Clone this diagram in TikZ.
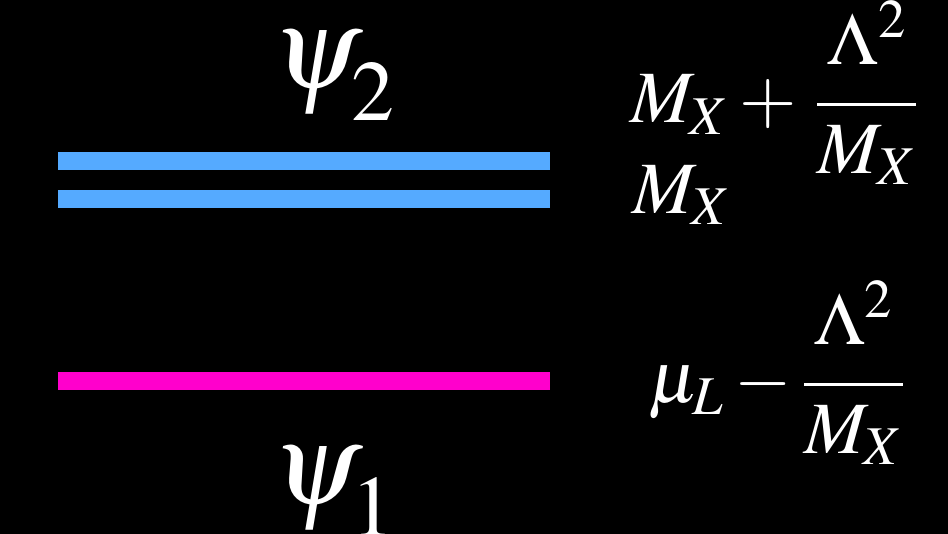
\documentclass[tikz,border=0pt]{standalone}
\usepackage{amsmath}
\usepackage{mathptmx}
\usetikzlibrary{calc}
\definecolor{HeavyClr}{RGB}{85,170,255}
\definecolor{LightClr}{RGB}{255,0,204}
\newcommand{\numlift}{\rule[-0.4em]{0pt}{0pt}}
\newcommand{\lowsub}[1]{\raisebox{-0.12em}{$\scriptstyle #1$}}

\begin{document}
\begin{tikzpicture}[x=0.02cm,y=-0.02cm]
\tikzset{level/.style={line width=0.36cm},
  lbl/.style={text=white,inner sep=0pt,font=\fontsize{42}{46}\selectfont},
  state/.style={lbl,anchor=base,font=\fontsize{66}{70}\selectfont}}

\fill[black] (0,0) rectangle (948,534);
\useasboundingbox (0,0) rectangle (948,534);

\coordinate (H1a) at (58,161);
\coordinate (H1b) at (550,161);
\coordinate (H2a) at (58,199);
\coordinate (H2b) at (550,199);
\coordinate (La) at (58,381);
\coordinate (Lb) at (550,381);

\draw[level,HeavyClr] (H1a) -- (H1b);
\draw[level,HeavyClr] (H2a) -- (H2b);
\draw[level,LightClr] (La) -- (Lb);

\node[state] (psiB) at (334,89) {$\psi_{\lowsub{2}}$};
\node[state] (psiA) at (334,504) {$\psi_{\lowsub{1}}$};

\node[lbl,anchor=west] (mHigh) at (630,93) {$M_X+\,\dfrac{\Lambda^2\numlift}{M_X}$};
\node[lbl,anchor=base west] (mLow) at (632,213) {$M_X$};
\node[lbl,anchor=west] (mLight) at (648,373) {$\mu_L-\dfrac{\Lambda^2\numlift}{M_X}$};

\end{tikzpicture}
\end{document}
